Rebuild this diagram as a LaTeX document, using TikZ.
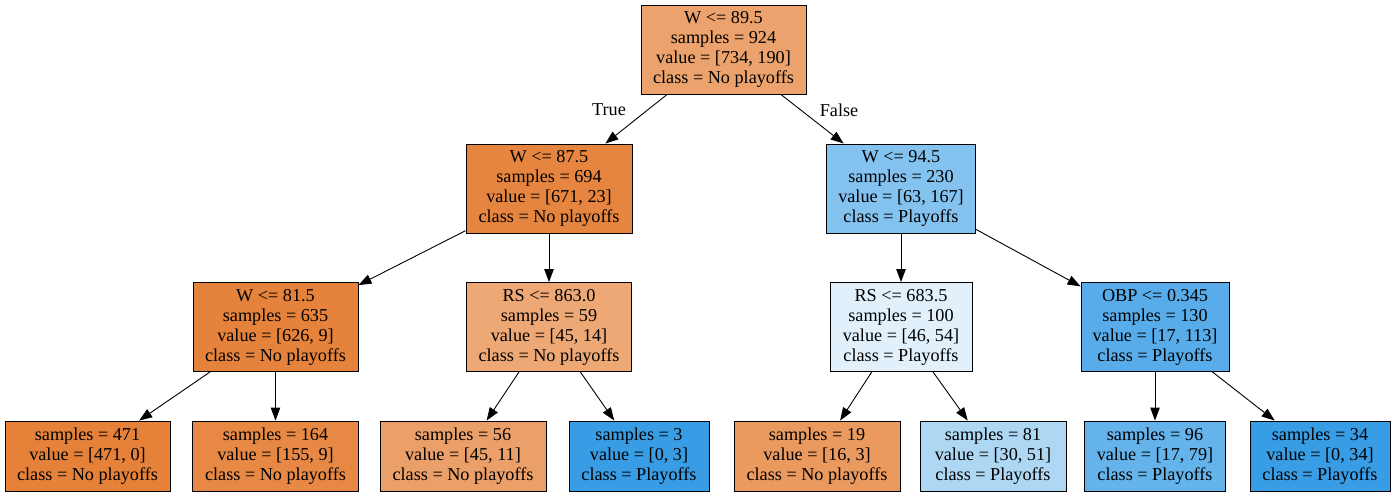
\documentclass[tikz,border=0pt]{standalone}
\usepackage{fontspec}
\setmainfont{Liberation Serif}
\usetikzlibrary{arrows.meta}
\definecolor{noplay}{RGB}{229,129,57}
\definecolor{play}{RGB}{57,157,229}
\newcommand\treefont{\fontsize{18.2}{20}\selectfont}
\begin{document}
\begin{tikzpicture}[x=1pt, y=-1pt, >={Triangle[length=13pt,width=9.5pt]},
                    box/.style={draw, line width=0.9pt, inner sep=0pt, align=center,
                      font=\treefont},
                    split/.style={box, minimum height=89pt},
                    leaf/.style={box, minimum height=70pt},
                    edge/.style={->, line width=0.9pt}]
                  \useasboundingbox (0,0) rectangle (1394,497);
                  % level 1
                  \node[split, minimum width=165pt, fill=noplay!74] (r) at (723.5,49.5)
                    {W <= 89.5\\samples = 924\\value = [734, 190]\\class = No playoffs};
                  % level 2
                  \node[split, minimum width=166pt, fill=noplay!97] (l) at (549,188.5)
                    {W <= 87.5\\samples = 694\\value = [671, 23]\\class = No playoffs};
                  \node[split, minimum width=149pt, fill=play!62] (rr) at (901,188.5)
                    {W <= 94.5\\samples = 230\\value = [63, 167]\\class = Playoffs};
                  % level 3
                  \node[split, minimum width=165pt, fill=noplay!99] (ll) at (275.5,327)
                    {W <= 81.5\\samples = 635\\value = [626, 9]\\class = No playoffs};
                  \node[split, minimum width=165pt, fill=noplay!69] (lr) at (549,327)
                    {RS <= 863.0\\samples = 59\\value = [45, 14]\\class = No playoffs};
                  \node[split, minimum width=142pt, fill=play!15] (rl) at (901,327)
                    {RS <= 683.5\\samples = 100\\value = [46, 54]\\class = Playoffs};
                  \node[split, minimum width=148pt, fill=play!85] (rrr) at (1155,327)
                    {OBP <= 0.345\\samples = 130\\value = [17, 113]\\class = Playoffs};
                  % leaves
                  \node[leaf, minimum width=165pt, fill=noplay] (a) at (87.5,456)
                    {samples = 471\\value = [471, 0]\\class = No playoffs};
                  \node[leaf, minimum width=166pt, fill=noplay!94] (b) at (275.5,456)
                    {samples = 164\\value = [155, 9]\\class = No playoffs};
                  \node[leaf, minimum width=166pt, fill=noplay!76] (c) at (463,456)
                    {samples = 56\\value = [45, 11]\\class = No playoffs};
                  \node[leaf, minimum width=140pt, fill=play] (d) at (639,456)
                    {samples = 3\\value = [0, 3]\\class = Playoffs};
                  \node[leaf, minimum width=166pt, fill=noplay!81] (e) at (817,456)
                    {samples = 19\\value = [16, 3]\\class = No playoffs};
                  \node[leaf, minimum width=146pt, fill=play!41] (f) at (993,456)
                    {samples = 81\\value = [30, 51]\\class = Playoffs};
                  \node[leaf, minimum width=141pt, fill=play!78] (g) at (1155,456)
                    {samples = 96\\value = [17, 79]\\class = Playoffs};
                  \node[leaf, minimum width=140pt, fill=play] (h) at (1320,456)
                    {samples = 34\\value = [0, 34]\\class = Playoffs};
                  \node[font=\treefont] (t) at (609,110) {True};
                  \node[font=\treefont] (fl) at (839,110) {False};
                  \draw[edge] (r) -- (l);
                  \draw[edge] (r) -- (rr);
                  \draw[edge] (l) -- (ll);
                  \draw[edge] (l) -- (lr);
                  \draw[edge] (rr) -- (rl);
                  \draw[edge] (rr) -- (rrr);
                  \draw[edge] (ll) -- (a);
                  \draw[edge] (ll) -- (b);
                  \draw[edge] (lr) -- (c);
                  \draw[edge] (lr) -- (d);
                  \draw[edge] (rl) -- (e);
                  \draw[edge] (rl) -- (f);
                  \draw[edge] (rrr) -- (g);
                  \draw[edge] (rrr) -- (h);
              \end{tikzpicture}
\end{document}
